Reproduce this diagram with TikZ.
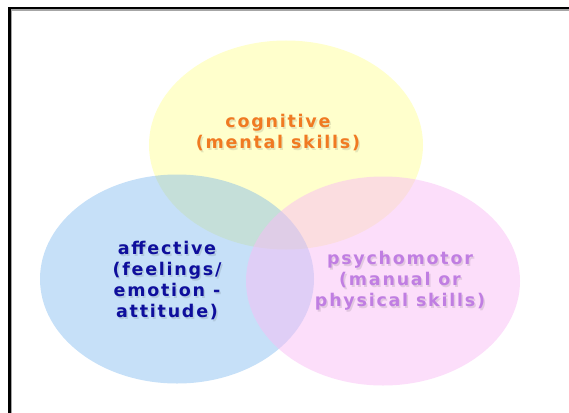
\documentclass[tikz,border=0pt]{standalone}
\usepackage{fontspec}
\setmainfont{DejaVu Sans}[BoldFont={DejaVu Sans Bold}, LetterSpace=10]
\usepackage{tikz}
\usetikzlibrary{positioning,shapes.geometric}

\definecolor{cogfill}{RGB}{255,255,204}
\definecolor{afffill}{RGB}{112,177,237}
\definecolor{psyfill}{RGB}{249,189,245}
\definecolor{cogtext}{HTML}{F07A22}
\definecolor{afftext}{HTML}{0E0E9C}
\definecolor{psytext}{HTML}{C07EE2}

\begin{document}
\begin{tikzpicture}[
  x=1pt, y=-1pt,
  zone/.style={ellipse, minimum width=274pt, minimum height=209pt, inner sep=0pt},
  tag/.style={font=\bfseries\fontsize{17.5}{21}\selectfont, align=center, inner sep=0pt},
  glow/.style={tag, text=black, text opacity=0.1},
  frame/.style={line width=2.6pt, line cap=rect}
]
\useasboundingbox (0,0) rectangle (569,412);

% The three domains
\node[zone, fill=cogfill] (cognitive) at (286,145) {};
\node[zone, fill=afffill, fill opacity=0.4] (affective) at (177,279) {};
\node[zone, fill=psyfill, fill opacity=0.5] (psychomotor) at (383,281) {};

% Labels, each with a faint shadow
\node[glow] (cogshadow) at (279.5,134.5) {cognitive\\(mental skills)};
\node[tag, text=cogtext] (coglabel) at (278,133) {cognitive\\(mental skills)};
\node[glow] (affshadow) at (168.5,282.5) {affective\\(feelings/\\emotion -\\attitude)};
\node[tag, text=afftext] (afflabel) at (167,281) {affective\\(feelings/\\emotion -\\attitude)};
\node[glow] (psyshadow) at (401.5,282.5) {psychomotor\\(manual or\\physical skills)};
\node[tag, text=psytext] (psylabel) at (400,281) {psychomotor\\(manual or\\physical skills)};

% Frame (top and left edges only)
\draw[frame, black!35] (11,420) -- (11,9.5) -- (580,9.5);
\draw[frame] (9.5,420) |- (580,8);
\end{tikzpicture}
\end{document}
